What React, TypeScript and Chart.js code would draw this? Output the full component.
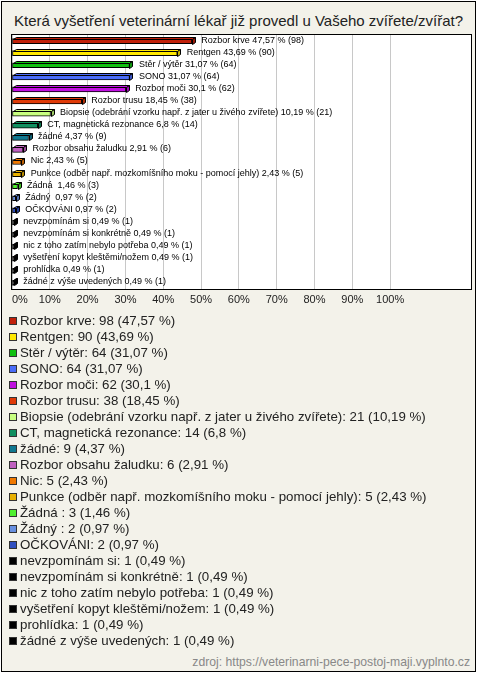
import React, { useEffect, useRef } from 'react';
import { Chart, registerables } from 'chart.js';

Chart.register(...registerables);

const title = 'Která vyšetření veterinární lékař již provedl u Vašeho zvířete/zvířat?';
const source = 'zdroj: https://veterinarni-pece-postoj-maji.vyplnto.cz';

const categories = [
  'Rozbor krve',
  'Rentgen',
  'Stěr / výtěr',
  'SONO',
  'Rozbor moči',
  'Rozbor trusu',
  'Biopsie (odebrání vzorku např. z jater u živého zvířete)',
  'CT, magnetická rezonance',
  'žádné',
  'Rozbor obsahu žaludku',
  'Nic',
  'Punkce (odběr např. mozkomíšního moku - pomocí jehly)',
  'Žádná ',
  'Žádný ',
  'OČKOVÁNI',
  'nevzpomínám si',
  'nevzpomínám si konkrétně',
  'nic z toho zatím nebylo potřeba',
  'vyšetření kopyt kleštěmi/nožem',
  'prohlídka',
  'žádné z výše uvedených',
];

const counts = [98, 90, 64, 64, 62, 38, 21, 14, 9, 6, 5, 5, 3, 2, 2, 1, 1, 1, 1, 1, 1];

const percents = [47.57, 43.69, 31.07, 31.07, 30.1, 18.45, 10.19, 6.8, 4.37, 2.91, 2.43, 2.43, 1.46, 0.97, 0.97, 0.49, 0.49, 0.49, 0.49, 0.49, 0.49];

const colors = [
  '#c0200a', '#ffe800', '#10c010', '#4a6cf8', '#c010e0', '#e03a08', '#c8ff80',
  '#109060', '#107890', '#c060c0', '#f07800', '#e8b000', '#50f030', '#6890e0',
  '#3050c0', '#000000', '#000000', '#000000', '#000000', '#000000', '#000000',
];

const xTicks = [0, 10, 20, 30, 40, 50, 60, 70, 80, 90, 100];
const xMax = 121.4;

const FONT = "'Liberation Sans', Arial, sans-serif";

const fmt = (v: number) => String(v).replace('.', ',');

function darken(hex: string, f: number) {
  const n = parseInt(hex.slice(1), 16);
  const r = Math.round(((n >> 16) & 255) * f);
  const g = Math.round(((n >> 8) & 255) * f);
  const b = Math.round((n & 255) * f);
  return `rgb(${r},${g},${b})`;
}

const bar3d = {
  id: 'bar3d',
  beforeDraw(chart: any) {
    const { ctx, chartArea: a } = chart;
    ctx.save();
    ctx.fillStyle = '#ffffff';
    ctx.fillRect(a.left, a.top, a.right - a.left, a.bottom - a.top);
    ctx.restore();
  },
  afterDatasetsDraw(chart: any) {
    const { ctx } = chart;
    const meta = chart.getDatasetMeta(0);
    const dx = 3;
    const dy = 2;
    ctx.save();
    ctx.lineWidth = 1;
    ctx.strokeStyle = '#000';
    meta.data.forEach((el: any, i: number) => {
      const p = el.getProps(['x', 'y', 'base', 'height'], true);
      const x0 = Math.round(p.base) + 0.5;
      const x1 = Math.round(p.x) + 0.5;
      const top = Math.round(p.y - p.height / 2) + 0.5;
      const bot = Math.round(p.y + p.height / 2) + 0.5;
      const c = colors[i];
      ctx.fillStyle = c;
      ctx.beginPath();
      ctx.moveTo(x0, top);
      ctx.lineTo(x0 + dx, top - dy);
      ctx.lineTo(x1 + dx, top - dy);
      ctx.lineTo(x1, top);
      ctx.closePath();
      ctx.fill();
      ctx.stroke();
      ctx.fillStyle = darken(c, 0.8);
      ctx.beginPath();
      ctx.moveTo(x1, top);
      ctx.lineTo(x1 + dx, top - dy);
      ctx.lineTo(x1 + dx, bot - dy);
      ctx.lineTo(x1, bot);
      ctx.closePath();
      ctx.fill();
      ctx.stroke();
      ctx.fillStyle = '#000';
      ctx.font = `9px ${FONT}`;
      ctx.textAlign = 'left';
      ctx.textBaseline = 'middle';
      const label = `${categories[i]} ${fmt(percents[i])} % (${counts[i]})`;
      ctx.fillText(label, p.x + 9.5, p.y - 1);
    });
    ctx.restore();
  },
  afterDraw(chart: any) {
    const { ctx, chartArea: a } = chart;
    ctx.save();
    ctx.strokeStyle = '#000';
    ctx.lineWidth = 1;
    ctx.strokeRect(a.left - 0.5, a.top - 0.5, a.right - a.left + 1, a.bottom - a.top + 1);
    ctx.restore();
  },
};

function BarChart() {
  const ref = useRef<HTMLCanvasElement | null>(null);
  useEffect(() => {
    if (!ref.current) return;
    const chart = new Chart(ref.current, {
      type: 'bar',
      data: {
        labels: categories,
        datasets: [
          {
            data: percents,
            backgroundColor: colors,
            borderColor: '#000',
            borderWidth: 1,
            borderSkipped: false,
            barThickness: 5,
          },
        ],
      },
      options: {
        indexAxis: 'y',
        animation: false,
        responsive: false,
        maintainAspectRatio: false,
        layout: { padding: { left: 12, top: 35, right: 9, bottom: 3.8 } },
        scales: {
          x: {
            type: 'linear',
            min: 0,
            max: xMax,
            afterBuildTicks: (axis: any) => {
              axis.ticks = [...xTicks.map((v) => ({ value: v })), { value: xMax }];
            },
            grid: {
              color: (ctx: any) => (ctx.tick && ctx.tick.value > 100 ? 'rgba(0,0,0,0)' : '#c8c8c8'),
              drawTicks: false,
              lineWidth: 1,
            },
            border: { display: false },
            ticks: {
              autoSkip: false,
              maxRotation: 0,
              padding: 4,
              align: 'inner',
              color: '#222',
              font: { size: 11, family: FONT },
              callback: (v: any) => (v > 100 ? '' : `${v}%`),
            },
          },
          y: {
            type: 'category',
            display: false,
          },
        },
        plugins: {
          legend: { display: false },
          tooltip: { enabled: false },
          title: { display: false },
        },
      },
      plugins: [bar3d],
    } as any);
    return () => chart.destroy();
  }, []);
  return (
    <canvas
      ref={ref}
      width={480}
      height={314}
      style={{ position: 'absolute', left: 0, top: 0, width: 480, height: 314 }}
    />
  );
}

export default function App() {
  return (
    <div style={{ position: 'relative', width: 480, height: 673, background: '#ffffff', fontFamily: FONT }}>
      <style>{'body{margin:0;}'}</style>
      <div
        style={{
          position: 'absolute',
          left: 1,
          top: 1,
          width: 475,
          height: 671,
          boxSizing: 'border-box',
          border: '1px solid #000',
          background: '#f3f2ea',
        }}
      />
      <div
        style={{
          position: 'absolute',
          left: 1,
          top: 11,
          width: 475,
          textAlign: 'center',
          fontSize: 15,
          lineHeight: '20px',
          color: '#222',
          whiteSpace: 'nowrap',
        }}
      >
        {title}
      </div>
      <BarChart />
      <div style={{ position: 'absolute', left: 9, top: 313, color: '#222', fontSize: 13.3 }}>
        {categories.map((c, i) => (
          <div key={i} style={{ height: 16, lineHeight: '16px', display: 'flex', alignItems: 'center', whiteSpace: 'pre' }}>
            <span
              style={{
                display: 'inline-block',
                width: 8,
                height: 8,
                boxSizing: 'border-box',
                border: '1px solid #333',
                background: colors[i],
                marginRight: 3,
              }}
            />
            <span>{`${c}: ${counts[i]} (${fmt(percents[i])} %)`}</span>
          </div>
        ))}
      </div>
      <div
        style={{
          position: 'absolute',
          right: 10,
          top: 654,
          fontSize: 12.2,
          lineHeight: '16px',
          color: '#888',
          whiteSpace: 'nowrap',
        }}
      >
        {source}
      </div>
    </div>
  );
}
